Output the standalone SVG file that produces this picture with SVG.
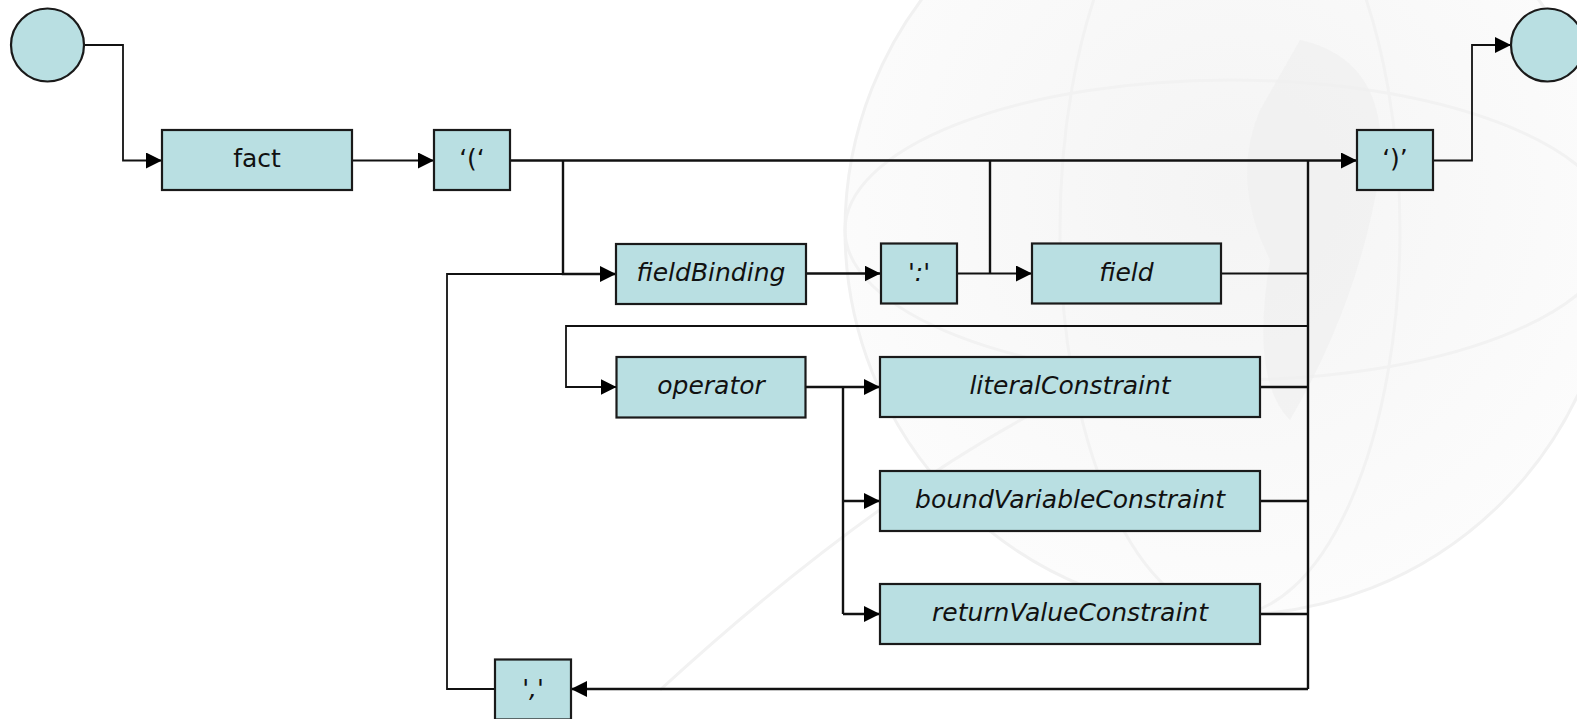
<svg xmlns="http://www.w3.org/2000/svg" width="1577" height="719" viewBox="0 0 1577 719">
  <defs>
    <style>
      .node { fill: #b9dfe2; stroke: #1a1a1a; stroke-width: 2.2; }
      .label { font-family: "DejaVu Sans", "Liberation Sans", sans-serif; font-size: 25px; fill: #111; text-anchor: middle; }
      .rule { font-style: italic; }
      .wire { fill: none; stroke: #111; stroke-width: 2.4; stroke-linejoin: miter; }
      .thin { stroke-width: 1.8; }
      .arrow { marker-end: url(#head); }
      .globe { fill: none; stroke: #f2f2f2; stroke-width: 3; }
    </style>
    <marker id="head" markerUnits="userSpaceOnUse" markerWidth="16" markerHeight="16" refX="16" refY="8" orient="auto">
      <path d="M0,0 L16,8 L0,16 z" fill="#000"/>
    </marker>
    <radialGradient id="globeShade" cx="0.5" cy="0.45" r="0.55">
      <stop offset="0" stop-color="#f4f4f4"/>
      <stop offset="1" stop-color="#fcfcfc"/>
    </radialGradient>
  </defs>

  <rect x="0" y="0" width="1577" height="719" fill="#ffffff"/>

  <!-- faint globe backdrop -->
  <g id="backdrop">
    <circle cx="1230" cy="230" r="385" fill="url(#globeShade)" stroke="#f1f1f1" stroke-width="3"/>
    <ellipse class="globe" cx="1230" cy="230" rx="385" ry="150"/>
    <ellipse class="globe" cx="1230" cy="230" rx="170" ry="385"/>
    <path class="globe" d="M660,690 Q900,470 1100,380"/>
    <path d="M1300,40 Q1390,60 1380,170 Q1360,300 1290,420 Q1250,380 1270,260 Q1230,180 1260,110 Z" fill="#efefef" opacity="0.6"/>
  </g>

  <!-- connectors -->
  <g id="connectors">
    <path class="wire thin arrow" d="M84,45 H123 V160.5 H162"/>
    <path class="wire thin arrow" d="M352,160.5 H434"/>
    <path class="wire arrow" d="M510,160.5 H1357"/>
    <path class="wire arrow" d="M563,160.5 V274 H616"/>
    <path class="wire arrow" d="M806,273.5 H880.5"/>
    <path class="wire thin arrow" d="M957,273.5 H1032"/>
    <path class="wire" d="M990,160.5 V273.5"/>
    <path class="wire thin" d="M1221,273.5 H1308"/>
    <path class="wire" d="M1308,160.5 V689"/>
    <path class="wire thin arrow" d="M1308,326 H566 V387 H616.5"/>
    <path class="wire arrow" d="M806,387 H880"/>
    <path class="wire" d="M843,387 V614"/>
    <path class="wire arrow" d="M843,501 H880"/>
    <path class="wire arrow" d="M843,614 H880"/>
    <path class="wire" d="M1260,387 H1308"/>
    <path class="wire" d="M1260,501 H1308"/>
    <path class="wire" d="M1260,614 H1308"/>
    <path class="wire arrow" d="M1308,689 H571"/>
    <path class="wire thin" d="M495,689 H447 V274 H563"/>
    <path class="wire thin arrow" d="M1433,160.5 H1472 V45 H1511"/>
  </g>

  <!-- nodes -->
  <g id="start"><circle class="node" cx="47.5" cy="45" r="36.5"/></g>
  <g id="end"><circle class="node" cx="1547.5" cy="45" r="36.5"/></g>

  <g id="fact">
    <rect class="node" x="162" y="130" width="190" height="60"/>
    <text class="label" x="257" y="167">fact</text>
  </g>
  <g id="lparen">
    <rect class="node" x="434" y="130" width="76" height="60"/>
    <text class="label" x="472" y="167">‘(‘</text>
  </g>
  <g id="rparen">
    <rect class="node" x="1357" y="130" width="76" height="60"/>
    <text class="label" x="1395" y="167">‘)’</text>
  </g>
  <g id="fieldBinding">
    <rect class="node" x="616" y="244" width="190" height="60"/>
    <text class="label rule" x="711" y="281">fieldBinding</text>
  </g>
  <g id="colon">
    <rect class="node" x="881" y="243.5" width="76" height="60"/>
    <text class="label rule" x="919" y="281">':'</text>
  </g>
  <g id="field">
    <rect class="node" x="1032" y="243.5" width="189" height="60"/>
    <text class="label rule" x="1126.5" y="281">field</text>
  </g>
  <g id="operator">
    <rect class="node" x="616.5" y="357" width="189" height="60.5"/>
    <text class="label rule" x="711" y="394">operator</text>
  </g>
  <g id="literalConstraint">
    <rect class="node" x="880" y="357" width="380" height="60"/>
    <text class="label rule" x="1070" y="394">literalConstraint</text>
  </g>
  <g id="boundVariableConstraint">
    <rect class="node" x="880" y="471" width="380" height="60"/>
    <text class="label rule" x="1070" y="508">boundVariableConstraint</text>
  </g>
  <g id="returnValueConstraint">
    <rect class="node" x="880" y="584" width="380" height="60"/>
    <text class="label rule" x="1070" y="621">returnValueConstraint</text>
  </g>
  <g id="comma">
    <rect class="node" x="495" y="659.5" width="76" height="60"/>
    <text class="label rule" x="533" y="697">','</text>
  </g>
</svg>
